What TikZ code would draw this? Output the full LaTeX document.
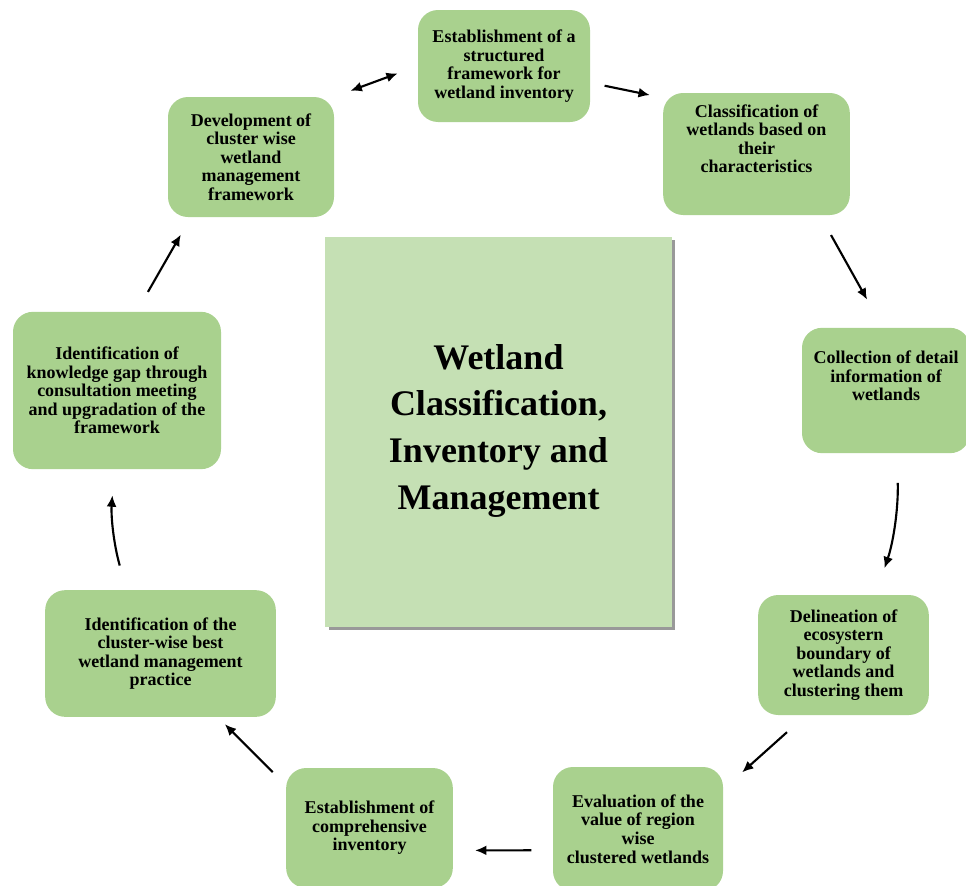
\documentclass[tikz,border=0pt]{standalone}
\usepackage{fontspec}
\setmainfont{Liberation Serif}
\usetikzlibrary{positioning,arrows.meta,shadows}
\definecolor{leafgreen}{HTML}{A9D18E}
\definecolor{palegreen}{HTML}{C5E0B4}

\begin{document}
\begin{tikzpicture}[x=0.75pt,y=-0.75pt,>={Latex[length=8.5pt,width=7.5pt]},
  stage/.style={fill=leafgreen,rounded corners=15pt,align=center,inner sep=2pt,
    font={\bfseries\fontsize{13.5}{13.9}\selectfont}},
  arr/.style={->,line width=1.6pt}]
\useasboundingbox (0,0) rectangle (966,885);
% centre panel
\node[fill=palegreen,minimum width=260pt,minimum height=292.5pt,align=center,text depth=8pt,
  drop shadow={shadow xshift=2.5pt,shadow yshift=-2.5pt,fill=black!40,opacity=1},
  font={\bfseries\fontsize{27}{35}\selectfont}] (hub) at (498.5,432)
  {Wetland\\Classification,\\Inventory and\\Management};
% stages round the cycle
\node[stage,minimum width=129pt,minimum height=84pt] (frame) at (504,66)
  {Establishment of a\\structured\\framework for\\wetland inventory};
\node[stage,minimum width=140pt,minimum height=91.5pt,text depth=23pt] (classify) at (756.5,154)
  {Classification of\\wetlands based on\\their\\characteristics};
\node[stage,minimum width=126pt,minimum height=94pt,text depth=22pt] (collect) at (886,390.5)
  {Collection of detail\\information of\\wetlands};
\node[stage,minimum width=128pt,minimum height=90pt] (delineate) at (843.5,655)
  {Delineation of\\ecosystern\\boundary of\\wetlands and\\clustering them};
\node[stage,minimum width=127.5pt,minimum height=93pt] (evaluate) at (638,829)
  {Evaluation of the\\value of region\\wise\\clustered wetlands};
\node[stage,minimum width=125pt,minimum height=90pt] (inventory) at (369.5,828)
  {Establishment of\\comprehensive\\inventory};
\node[stage,minimum width=173pt,minimum height=95pt] (practice) at (160.5,653.5)
  {Identification of the\\cluster-wise best\\wetland management\\practice};
\node[stage,minimum width=156pt,minimum height=118pt] (gap) at (117,390.5)
  {Identification of\\knowledge gap through\\consultation meeting\\and upgradation of the\\framework};
\node[stage,minimum width=124.5pt,minimum height=90pt] (develop) at (251,157)
  {Development of\\cluster wise\\wetland\\management\\framework};
% arrows
\draw[arr,<->,shorten <=13pt,shorten >=16pt] (develop.north east) -- (frame.west);
\draw[arr,shorten <=11pt,shorten >=10pt] (frame.-11) -- (classify.149);
\draw[arr,shorten <=17pt,shorten >=24pt] (classify.-44) -- (collect.93);
\draw[arr,shorten <=22pt,shorten >=21pt] (collect.-80) to[bend left=10] (delineate.62);
\draw[arr,shorten <=19pt,shorten >=19pt] (delineate.-122) -- (evaluate.25);
\draw[arr,shorten <=16pt,shorten >=16.5pt] (evaluate.194) -- (inventory.-15);
\draw[arr,shorten <=14pt,shorten >=7.5pt] (inventory.153) -- (practice.-48);
\draw[arr,shorten <=19pt,shorten >=19.5pt] (practice.118) to[bend left=10] (gap.-92);
\draw[arr,shorten <=17pt,shorten >=15pt] (gap.76) -- (develop.225);
\end{tikzpicture}
\end{document}
